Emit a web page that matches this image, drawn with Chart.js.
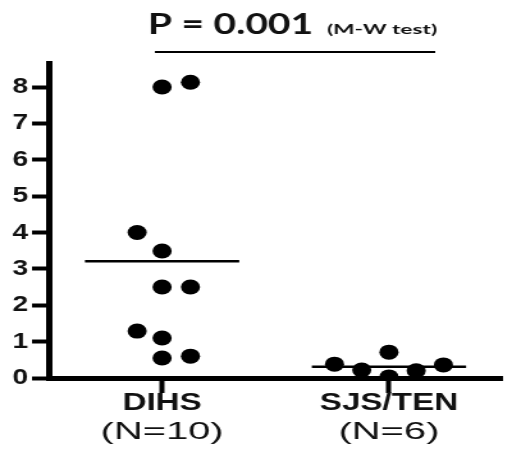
<!DOCTYPE html>
<html>
<head>
<meta charset="utf-8">
<script src="https://cdn.jsdelivr.net/npm/chart.js@4/dist/chart.umd.min.js"></script>
<style>
  html, body { margin: 0; padding: 0; background: #fff; overflow: hidden; }
  /* the source picture is stretched sideways, so draw narrow and widen with CSS */
  #chart { display: block; width: 512px !important; height: 451px !important; }
</style>
</head>
<body>
<canvas id="chart" width="400" height="451" style="width:512px;height:451px"></canvas>
<script>
// ── DATA ─────────────────────────────────────────────────────────────────────
const GROUPS      = ['DIHS', 'SJS/TEN'];
const GROUP_N     = ['(N=10)', '(N=6)'];
const GROUP_X     = [1, 2];
const Y_TICKS     = [0, 1, 2, 3, 4, 5, 6, 7, 8];

// jittered x positions (1 = DIHS column, 2 = SJS/TEN column) and values
const DIHS_X      = [1.0, 1.125, 0.89, 1.0, 1.0, 1.125, 0.89, 1.0, 1.0, 1.125];
const DIHS_Y      = [8.0, 8.13, 4.0, 3.49, 2.5, 2.5, 1.29, 1.1, 0.55, 0.6];
const SJS_X       = [1.76, 1.88, 2.0, 2.0, 2.12, 2.24];
const SJS_Y       = [0.38, 0.22, 0.71, 0.03, 0.2, 0.36];

const MEANS       = [3.21, 0.31];
const MEAN_HALF   = 0.34;          // half width of the mean bar, x units

const P_TEXT      = 'P = 0.001';
const TEST_TEXT   = '(M-W test)';

// ── HELPERS ──────────────────────────────────────────────────────────────────
const pts = (xs, ys) => xs.map((x, i) => ({ x, y: ys[i] }));

const meanLine = i => ({
  type: 'line',
  data: [
    { x: GROUP_X[i] - MEAN_HALF, y: MEANS[i] },
    { x: GROUP_X[i] + MEAN_HALF, y: MEANS[i] },
  ],
  borderColor: '#000',
  borderWidth: 2.5,
  pointRadius: 0,
  showLine: true,
  order: 2,
});

// draw text squeezed/stretched horizontally by a factor (or to a width)
function fitText(ctx, text, x, y, width) {
  const w = ctx.measureText(text).width;
  ctx.save();
  ctx.translate(x, y);
  ctx.scale(width / w, 1);
  ctx.fillText(text, 0, 0);
  ctx.restore();
}
function wideText(ctx, text, x, y, factor) {
  ctx.save();
  ctx.translate(x, y);
  ctx.scale(factor, 1);
  ctx.fillText(text, 0, 0);
  ctx.restore();
}

// ── TEXT PLUGIN ──────────────────────────────────────────────────────────────
const textPlugin = {
  id: 'textPlugin',
  afterDraw(chart) {
    const { ctx } = chart;
    const xs = chart.scales.x;
    ctx.save();
    ctx.fillStyle = '#111';
    ctx.textBaseline = 'alphabetic';
    ctx.textAlign = 'left';

    // p-value header
    ctx.font = 'bold 29px Lato';
    fitText(ctx, P_TEXT, 115.6, 34, 129);
    ctx.font = 'bold 14px Lato';
    fitText(ctx, TEST_TEXT, 255.5, 34, 86);

    ctx.strokeStyle = '#000';
    ctx.lineWidth = 2;
    ctx.beginPath();
    ctx.moveTo(121, 52);
    ctx.lineTo(340, 52);
    ctx.stroke();

    // group labels
    ctx.textAlign = 'center';
    GROUPS.forEach((g, i) => {
      const px = xs.getPixelForValue(GROUP_X[i]);
      ctx.font = 'bold 24px "Liberation Sans", Arial';
      wideText(ctx, g, px, 410, 1.08);
      ctx.font = '24px "Liberation Sans", Arial';
      wideText(ctx, GROUP_N[i], px, 439, 1.3);
    });
    ctx.restore();
  }
};

// ── CHART ────────────────────────────────────────────────────────────────────
const dotStyle = {
  backgroundColor: '#000',
  borderWidth: 0,
  pointRadius: 7.5,
  pointHoverRadius: 7.5,
  order: 1,
};

new Chart(document.getElementById('chart'), {
  type: 'scatter',
  data: {
    datasets: [
      { label: GROUPS[0], data: pts(DIHS_X, DIHS_Y), ...dotStyle },
      { label: GROUPS[1], data: pts(SJS_X, SJS_Y), ...dotStyle },
      meanLine(0),
      meanLine(1),
    ]
  },
  options: {
    responsive: false,
    animation: false,
    devicePixelRatio: 1,
    layout: { padding: { top: 63, right: 0, bottom: 0, left: 0 } },
    scales: {
      x: {
        type: 'linear',
        min: 0.5,
        max: 2.5,
        afterFit: s => { s.height = 73; },
        afterBuildTicks: s => { s.ticks = GROUP_X.map(v => ({ value: v })); },
        border: { display: true, color: '#000', width: 5 },
        grid: { drawOnChartArea: false, drawTicks: true, tickLength: 15, tickWidth: 4, color: '#000' },
        ticks: { display: false },
      },
      y: {
        min: 0,
        max: 8.66,
        afterFit: s => { s.width = 38; },
        afterBuildTicks: s => { s.ticks = Y_TICKS.map(v => ({ value: v })); },
        border: { display: true, color: '#000', width: 5 },
        grid: { drawOnChartArea: false, drawTicks: true, tickLength: 13, tickWidth: 4, color: '#000' },
        ticks: {
          color: '#111',
          padding: 3,
          font: { family: '"Liberation Sans", Arial', size: 22, weight: 'bold' },
        },
      }
    },
    plugins: {
      legend: { display: false },
      tooltip: { enabled: false },
    }
  },
  plugins: [textPlugin]
});
</script>
</body>
</html>
